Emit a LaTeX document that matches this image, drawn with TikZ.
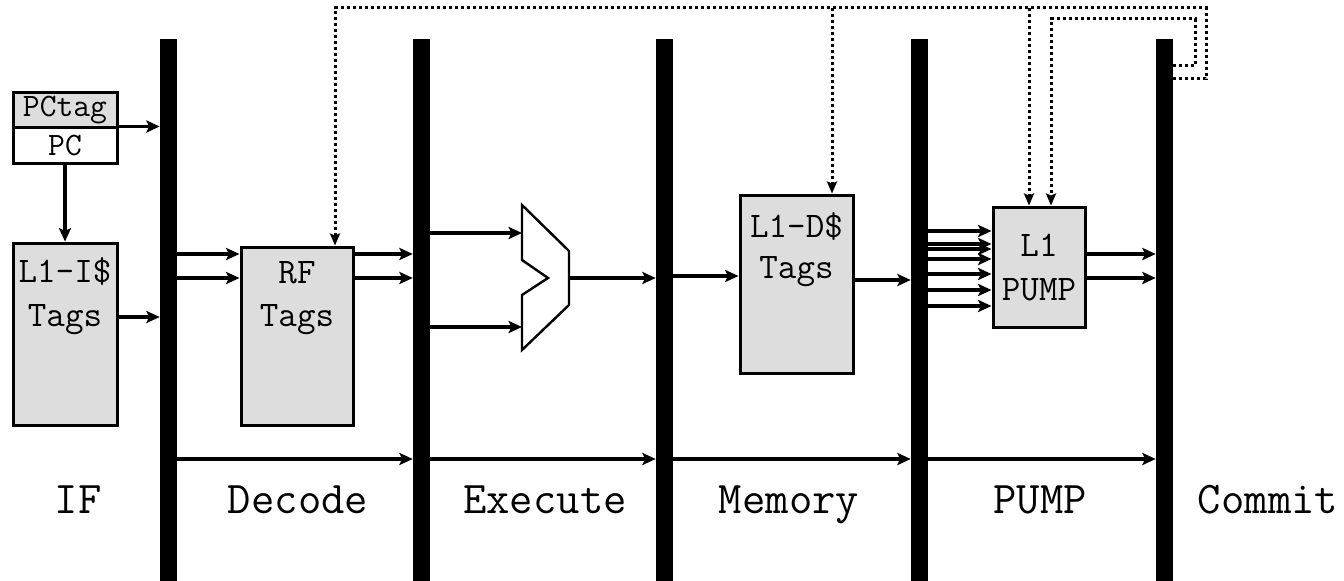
\documentclass[tikz,border=0pt]{standalone}
\usepackage{fontspec}
\usetikzlibrary{arrows.meta,calc}
\definecolor{tagfill}{RGB}{221,221,221}
\begin{document}
\begin{tikzpicture}[x=0.75pt,y=-0.75pt,
  wire/.style={line width=2.5pt},
  tip/.style={-{Stealth[length=10pt,width=9pt,inset=2pt]}},
  arr/.style={wire,tip},
  darr/.style={line width=2.25pt,dash pattern=on 2.25pt off 2.25pt,-{Stealth[length=9pt,width=7.5pt,inset=1.5pt]}},
  stage/.style={fill=black,draw=none,inner sep=0pt,minimum width=12.75pt,minimum height=406.5pt},
  tagbox/.style={draw,line width=2.25pt,fill=tagfill,inner sep=0pt},
  boxtext/.style={font=\ttfamily\fontsize{27}{27}\selectfont,inner sep=0pt},
  pctext/.style={font=\ttfamily\fontsize{24.5}{24.5}\selectfont,inner sep=0pt},
  stagename/.style={font=\ttfamily\fontsize{34}{34}\selectfont,inner sep=0pt,anchor=base}]
\useasboundingbox (0,0) rectangle (1344,581);

% pipeline registers
\node[stage] (b1) at (168.5,310) {};
\node[stage] (b2) at (421.5,310) {};
\node[stage] (b3) at (664.5,310) {};
\node[stage] (b4) at (919.5,310) {};
\node[stage] (b5) at (1164.5,310) {};

% program counter
\node[tagbox,minimum width=78pt,minimum height=26.25pt] (pctag) at (65,110.5) {};
\node[draw,line width=2.25pt,fill=white,inner sep=0pt,minimum width=78pt,minimum height=26.25pt] (pc) at (65,145.5) {};
\node[pctext] (pctagt) at (65,110) {PCtag};
\node[pctext] (pct) at (65,146) {PC};

% tag storage blocks
\node[tagbox,minimum width=78pt,minimum height=136.5pt] (l1i) at (65,334) {};
\node[boxtext] (l1it1) at (65,272) {L1-I\$};
\node[boxtext] (l1it2) at (65,320) {Tags};

\node[tagbox,minimum width=84pt,minimum height=133.5pt] (rf) at (297,336) {};
\node[boxtext] (rft1) at (297,273) {RF};
\node[boxtext] (rft2) at (297,320) {Tags};

\node[tagbox,minimum width=84.75pt,minimum height=133.5pt] (l1d) at (796.5,284) {};
\node[boxtext] (l1dt1) at (796.5,227) {L1-D\$};
\node[boxtext] (l1dt2) at (796.5,272) {Tags};

\node[tagbox,minimum width=69pt,minimum height=90pt] (pump) at (1039,267) {};
\node[boxtext] (pumpt1) at (1039,245) {L1};
\node[boxtext] (pumpt2) at (1039,290) {PUMP};

% ALU
\coordinate (aluin1) at (522,233);
\coordinate (aluin2) at (522,327);
\coordinate (aluout) at (569,278);
\draw[line width=1.8pt,line join=miter] (522,205) -- (569,251) -- (569,305) -- (522,350)
  -- (522,295) -- (548,278) -- (522,260) -- cycle;

% fetch
\draw[arr] (pc.north east) -- (b1.west |- pc.north);
\draw[arr] (pc.south) -- (l1i.north);
\draw[arr] (l1i.east |- 0,317) -- (b1.west |- 0,317);

% decode
\foreach \yy in {254,278} {
  \draw[arr] (b1.east |- 0,\yy) -- (rf.west |- 0,\yy);
  \draw[arr] (rf.east |- 0,\yy) -- (b2.west |- 0,\yy);
}

% execute
\draw[arr] (b2.east |- aluin1) -- (aluin1);
\draw[arr] (b2.east |- aluin2) -- (aluin2);
\draw[arr] (aluout) -- (b3.west |- aluout);

% memory
\draw[arr] (b3.east |- 0,276) -- (l1d.west |- 0,276);
\draw[arr] (l1d.east |- 0,280) -- (b4.west |- 0,280);

% PUMP
\foreach \yy in {231,244,249,259,274,290,306}
  \draw[arr] (b4.east |- 0,\yy) -- (pump.west |- 0,\yy);
\foreach \yy in {254,278}
  \draw[arr] (pump.east |- 0,\yy) -- (b5.west |- 0,\yy);

% instruction carried through every stage
\draw[arr] (b1.east |- 0,459) -- (b2.west |- 0,459);
\draw[arr] (b2.east |- 0,459) -- (b3.west |- 0,459);
\draw[arr] (b3.east |- 0,459) -- (b4.west |- 0,459);
\draw[arr] (b4.east |- 0,459) -- (b5.west |- 0,459);

% tag write-back from commit
\draw[darr] (b5.east |- 0,79) -| (1206,8) -| (335,0 |- rf.north);
\draw[darr] (832,8) -- (832,0 |- l1d.north);
\draw[darr] (1029,8) -- (1029,0 |- pump.north);
\draw[darr] (b5.east |- 0,66) -| (1195,19) -| (1051,0 |- pump.north);

% stage names
\node[stagename] (sif)  at (78,513)   {IF};
\node[stagename] (sdec) at (298,513)  {Decode};
\node[stagename] (sexe) at (545,513)  {Execute};
\node[stagename] (smem) at (789,513)  {Memory};
\node[stagename] (spmp) at (1040,513) {PUMP};
\node[stagename] (scom) at (1268,513) {Commit};
\end{tikzpicture}
\end{document}
